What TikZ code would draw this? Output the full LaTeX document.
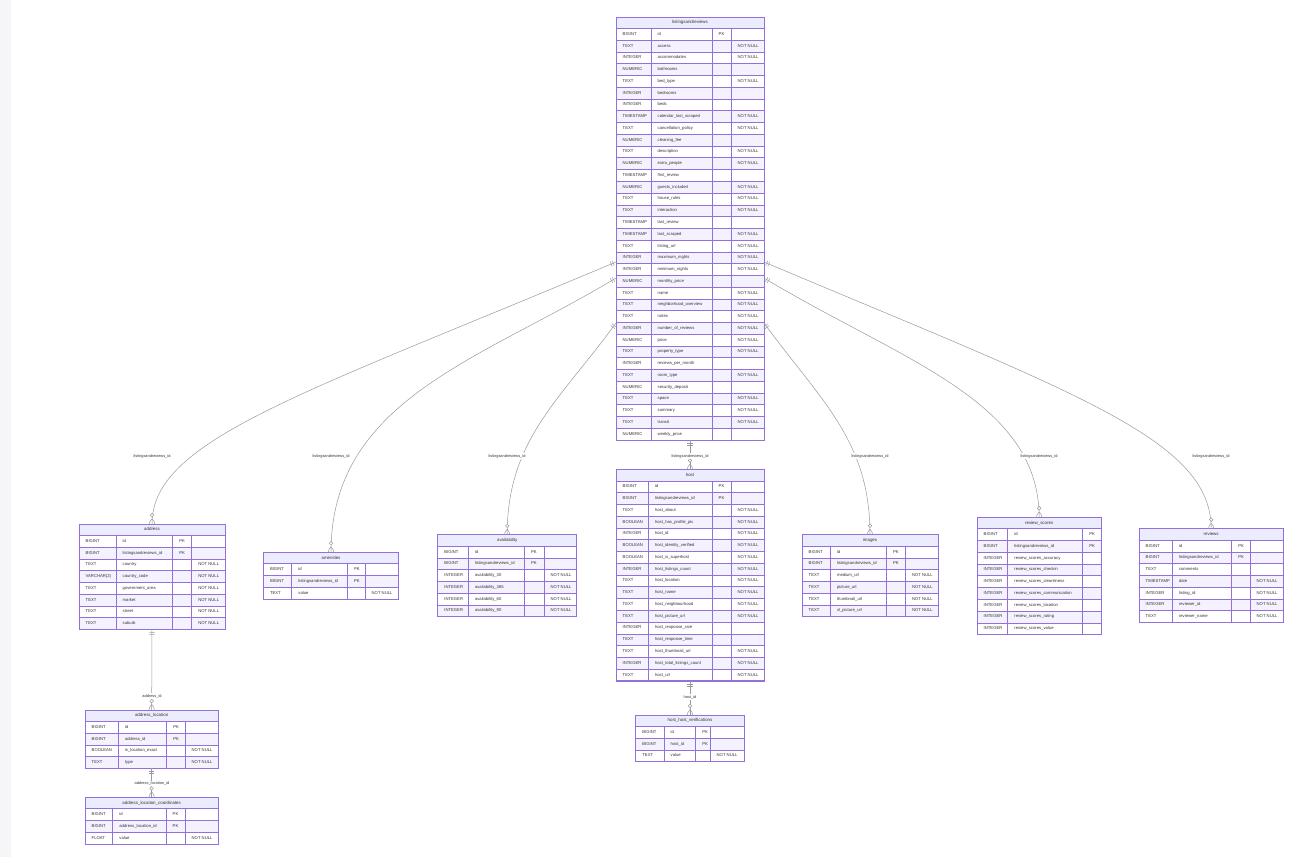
\documentclass[tikz,border=0pt]{standalone}
\usepackage{fontspec}
\setmainfont{Liberation Sans}
\usetikzlibrary{decorations.markings}
\definecolor{erborder}{HTML}{9370DB}
\definecolor{erhead}{HTML}{ECECFF}
\definecolor{errow}{HTML}{F4F2FE}
\definecolor{ertext}{HTML}{333333}
\definecolor{erline}{HTML}{9A9A9A}
\definecolor{edgestrip}{HTML}{F6F6F8}
\newcommand\setcols[5]{\def\xa{#1}\def\xb{#2}\def\xc{#3}\def\xd{#4}\def\xe{#5}}
\newcommand\ertable[5]{%
  \pgfmathsetmacro\erhb{#3+11.4}%
  \pgfmathsetmacro\ertb{\erhb+#4*11.76}%
  \fill[erhead] (\xa,#3) rectangle (\xe,\erhb);
  \draw[cell] (\xa,#3) rectangle (\xe,\erhb);
  \node[ttl] (#1-title) at ({(\xa+\xe)/2},{(#3+\erhb)/2}) {#2};
  \foreach \vty/\vnm/\vky/\vcm [count=\i] in {#5}{%
    \pgfmathsetmacro\erya{\erhb+(\i-1)*11.76}%
    \pgfmathsetmacro\eryb{\erya+11.76}%
    \pgfmathsetmacro\erym{\erya+5.88}%
    \ifodd\i\relax\def\errf{white}\else\def\errf{errow}\fi
    \fill[\errf] (\xa,\erya) rectangle (\xe,\eryb);
    \draw[cell] (\xa,\erya) rectangle (\xb,\eryb) (\xb,\erya) rectangle (\xc,\eryb)
                (\xc,\erya) rectangle (\xd,\eryb) (\xd,\erya) rectangle (\xe,\eryb);
    \node[attr] (#1-\i-type) at (\xa+6.5,\erym) {\vty};
    \node[attr] (#1-\i-name) at (\xb+6.5,\erym) {\vnm};
    \node[attr] (#1-\i-key) at (\xc+6.5,\erym) {\vky};
    \node[attr] (#1-\i-cmt) at (\xd+6.5,\erym) {\vcm};
  }
  \node[tablebox, minimum width={(\xe-\xa)*1pt}, minimum height={(\ertb-#3)*1pt}] (#1) at (\xa,#3) {};
}
\newcommand\crowfoot[1]{%
  \draw[erline, line width=0.5pt]
    ([yshift=5.4pt]#1.north) .. controls +(1.8pt,-1.8pt) and +(0pt,1.8pt) .. ([xshift=2.7pt]#1.north)
    ([yshift=5.4pt]#1.north) .. controls +(-1.8pt,-1.8pt) and +(0pt,1.8pt) .. ([xshift=-2.7pt]#1.north);
  \draw[erline, line width=0.5pt, fill=white] ([yshift=9pt]#1.north) circle[radius=1.8pt];
}
\tikzset{
  cell/.style={draw=erborder, line width=0.55pt},
  attr/.style={anchor=west, inner sep=0pt, text=ertext, font=\fontsize{4.2}{5}\selectfont, text height=3pt, text depth=0.9pt},
  ttl/.style={inner sep=0pt, text=ertext, font=\fontsize{4.4}{5}\selectfont, text height=3.1pt, text depth=0.9pt},
  tablebox/.style={draw=erborder, line width=0.8pt, inner sep=0pt, outer sep=0pt, anchor=north west},
  rel/.style={draw=erline, line width=0.5pt},
  rlabel/.style={fill=white, inner sep=0.8pt, text=ertext, font=\fontsize{3.9}{4.5}\selectfont},
  onestart/.style={postaction={decorate, decoration={markings,
     mark=at position 3pt with {\draw[erline, line width=0.5pt] (0pt,-2.6pt) -- (0pt,2.6pt);},
     mark=at position 5.2pt with {\draw[erline, line width=0.5pt] (0pt,-2.6pt) -- (0pt,2.6pt);}}}},
}
\begin{document}
\begin{tikzpicture}[x=1pt,y=-1pt]
\useasboundingbox (0,0) rectangle (1314,857);
\fill[white] (0,0) rectangle (1314,857);
\fill[edgestrip] (0,0) rectangle (11,857);

% ---------- tables ----------
\setcols{616}{651}{712}{731}{764}
\ertable{lar}{listingsandreviews}{17}{35}{
BIGINT/id/PK/{},
TEXT/access/{}/NOT NULL,
INTEGER/accommodates/{}/NOT NULL,
NUMERIC/bathrooms/{}/{},
TEXT/bed\_type/{}/NOT NULL,
INTEGER/bedrooms/{}/{},
INTEGER/beds/{}/{},
TIMESTAMP/calendar\_last\_scraped/{}/NOT NULL,
TEXT/cancellation\_policy/{}/NOT NULL,
NUMERIC/cleaning\_fee/{}/{},
TEXT/description/{}/NOT NULL,
NUMERIC/extra\_people/{}/NOT NULL,
TIMESTAMP/first\_review/{}/{},
NUMERIC/guests\_included/{}/NOT NULL,
TEXT/house\_rules/{}/NOT NULL,
TEXT/interaction/{}/NOT NULL,
TIMESTAMP/last\_review/{}/{},
TIMESTAMP/last\_scraped/{}/NOT NULL,
TEXT/listing\_url/{}/NOT NULL,
INTEGER/maximum\_nights/{}/NOT NULL,
INTEGER/minimum\_nights/{}/NOT NULL,
NUMERIC/monthly\_price/{}/{},
TEXT/name/{}/NOT NULL,
TEXT/neighborhood\_overview/{}/NOT NULL,
TEXT/notes/{}/NOT NULL,
INTEGER/number\_of\_reviews/{}/NOT NULL,
NUMERIC/price/{}/NOT NULL,
TEXT/property\_type/{}/NOT NULL,
INTEGER/reviews\_per\_month/{}/{},
TEXT/room\_type/{}/NOT NULL,
NUMERIC/security\_deposit/{}/{},
TEXT/space/{}/NOT NULL,
TEXT/summary/{}/NOT NULL,
TEXT/transit/{}/NOT NULL,
NUMERIC/weekly\_price/{}/{}}

\setcols{616}{648.3}{712}{731}{764}
\ertable{host}{host}{469.5}{17}{
BIGINT/id/PK/{},
BIGINT/listingsandreviews\_id/PK/{},
TEXT/host\_about/{}/NOT NULL,
BOOLEAN/host\_has\_profile\_pic/{}/NOT NULL,
INTEGER/host\_id/{}/NOT NULL,
BOOLEAN/host\_identity\_verified/{}/NOT NULL,
BOOLEAN/host\_is\_superhost/{}/NOT NULL,
INTEGER/host\_listings\_count/{}/NOT NULL,
TEXT/host\_location/{}/NOT NULL,
TEXT/host\_name/{}/NOT NULL,
TEXT/host\_neighbourhood/{}/NOT NULL,
TEXT/host\_picture\_url/{}/NOT NULL,
INTEGER/host\_response\_rate/{}/{},
TEXT/host\_response\_time/{}/{},
TEXT/host\_thumbnail\_url/{}/NOT NULL,
INTEGER/host\_total\_listings\_count/{}/NOT NULL,
TEXT/host\_url/{}/NOT NULL}

\setcols{635.7}{664}{695.7}{710}{744.3}
\ertable{hhv}{host\_host\_verifications}{715}{3}{
BIGINT/id/PK/{},
BIGINT/host\_id/PK/{},
TEXT/value/{}/NOT NULL}

\setcols{79}{116}{172.7}{191.7}{225}
\ertable{address}{address}{524}{8}{
BIGINT/id/PK/{},
BIGINT/listingsandreviews\_id/PK/{},
TEXT/country/{}/NOT NULL,
VARCHAR(2)/country\_code/{}/NOT NULL,
TEXT/government\_area/{}/NOT NULL,
TEXT/market/{}/NOT NULL,
TEXT/street/{}/NOT NULL,
TEXT/suburb/{}/NOT NULL}

\setcols{85}{118.3}{166.7}{185}{218.3}
\ertable{addrloc}{address\_location}{710}{4}{
BIGINT/id/PK/{},
BIGINT/address\_id/PK/{},
BOOLEAN/is\_location\_exact/{}/NOT NULL,
TEXT/type/{}/NOT NULL}

\setcols{85}{112.7}{166}{185}{218.3}
\ertable{coords}{address\_location\_coordinates}{797.3}{3}{
BIGINT/id/PK/{},
BIGINT/address\_location\_id/PK/{},
FLOAT/value/{}/NOT NULL}

\setcols{263.3}{291.7}{347.3}{365}{398.7}
\ertable{amen}{amenities}{552.3}{3}{
BIGINT/id/PK/{},
BIGINT/listingsandreviews\_id/PK/{},
TEXT/value/{}/NOT NULL}

\setcols{437.7}{468.3}{524.3}{544}{576.7}
\ertable{avail}{availability}{534.7}{6}{
BIGINT/id/PK/{},
BIGINT/listingsandreviews\_id/PK/{},
INTEGER/availability\_30/{}/NOT NULL,
INTEGER/availability\_365/{}/NOT NULL,
INTEGER/availability\_60/{}/NOT NULL,
INTEGER/availability\_90/{}/NOT NULL}

\setcols{802}{830.3}{886.3}{905.3}{938}
\ertable{images}{images}{534.7}{6}{
BIGINT/id/PK/{},
BIGINT/listingsandreviews\_id/PK/{},
TEXT/medium\_url/{}/NOT NULL,
TEXT/picture\_url/{}/NOT NULL,
TEXT/thumbnail\_url/{}/NOT NULL,
TEXT/xl\_picture\_url/{}/NOT NULL}

\setcols{977}{1007.7}{1082.7}{1101.3}{1101.3}
\ertable{rscores}{review\_scores}{517.3}{9}{
BIGINT/id/PK/{},
BIGINT/listingsandreviews\_id/PK/{},
INTEGER/review\_scores\_accuracy/{}/{},
INTEGER/review\_scores\_checkin/{}/{},
INTEGER/review\_scores\_cleanliness/{}/{},
INTEGER/review\_scores\_communication/{}/{},
INTEGER/review\_scores\_location/{}/{},
INTEGER/review\_scores\_rating/{}/{},
INTEGER/review\_scores\_value/{}/{}}

\setcols{1139}{1172.3}{1231.7}{1250}{1283.3}
\ertable{reviews}{reviews}{528.7}{7}{
BIGINT/id/PK/{},
BIGINT/listingsandreviews\_id/PK/{},
TEXT/comments/{}/{},
TIMESTAMP/date/{}/NOT NULL,
INTEGER/listing\_id/{}/NOT NULL,
INTEGER/reviewer\_id/{}/NOT NULL,
TEXT/reviewer\_name/{}/NOT NULL}

% ---------- connectors ----------
\coordinate (lar-l1) at (lar.west |- 0,262);
\coordinate (lar-l2) at (lar.west |- 0,278);
\coordinate (lar-l3) at (lar.west |- 0,323);
\coordinate (lar-r1) at (lar.east |- 0,262);
\coordinate (lar-r2) at (lar.east |- 0,278);
\coordinate (lar-r3) at (lar.east |- 0,323);

\draw[rel, onestart] (lar-l1) .. controls (300,395) and (152,440) .. (address.north);
\draw[rel, onestart] (lar-l2) .. controls (480,360) and (331,400) .. (amen.north);
\draw[rel, onestart] (lar-l3) .. controls (560,400) and (507,440) .. (avail.north);
\draw[rel, onestart] (lar-r3) .. controls (820,400) and (870,440) .. (images.north);
\draw[rel, onestart] (lar-r2) .. controls (900,360) and (1039,400) .. (rscores.north);
\draw[rel, onestart] (lar-r1) .. controls (1080,395) and (1211,440) .. (reviews.north);
\draw[rel, onestart] (lar.south) -- (host.north);
\draw[rel, onestart] (host.south) -- (hhv.north);
\draw[rel, onestart] (address.south) -- (addrloc.north);
\draw[rel, onestart] (addrloc.south) -- (coords.north);

\crowfoot{address}
\crowfoot{amen}
\crowfoot{avail}
\crowfoot{images}
\crowfoot{rscores}
\crowfoot{reviews}
\crowfoot{host}
\crowfoot{hhv}
\crowfoot{addrloc}
\crowfoot{coords}

% ---------- labels ----------
\node[rlabel] (lab-address) at (152,456) {listingsandreviews\_id};
\node[rlabel] (lab-amen) at (331,456) {listingsandreviews\_id};
\node[rlabel] (lab-avail) at (507,456) {listingsandreviews\_id};
\node[rlabel] (lab-host) at (690,456) {listingsandreviews\_id};
\node[rlabel] (lab-images) at (870,456) {listingsandreviews\_id};
\node[rlabel] (lab-rscores) at (1039,456) {listingsandreviews\_id};
\node[rlabel] (lab-reviews) at (1211,456) {listingsandreviews\_id};
\node[rlabel] (lab-hhv) at (690,697) {host\_id};
\node[rlabel] (lab-addrloc) at (152,696) {address\_id};
\node[rlabel] (lab-coords) at (152,783.5) {address\_location\_id};
\end{tikzpicture}
\end{document}
